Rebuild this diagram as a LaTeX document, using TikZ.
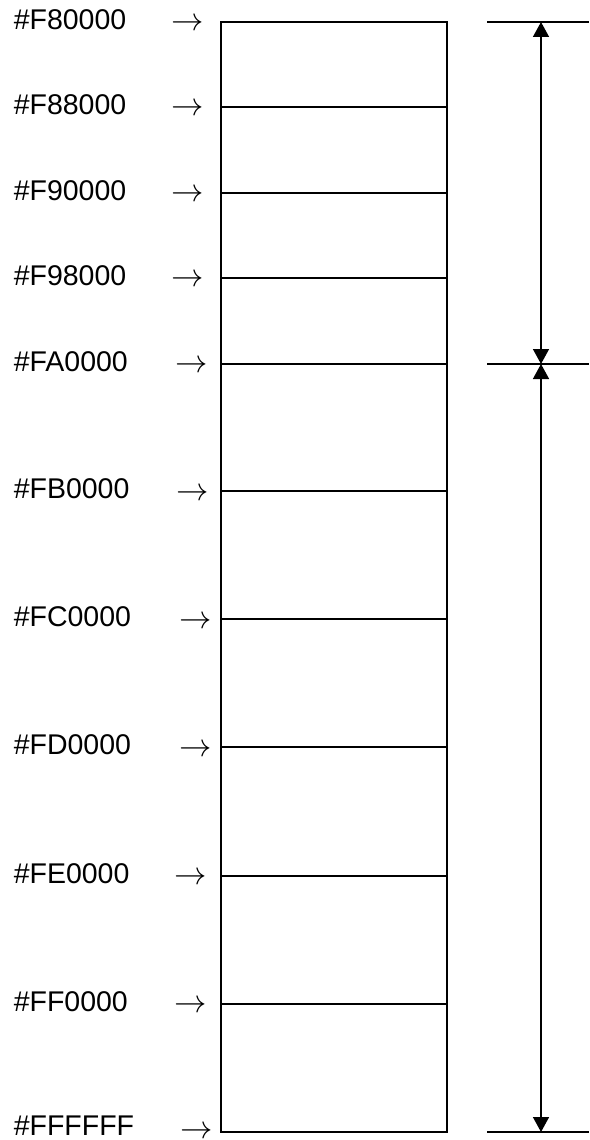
\documentclass[tikz,border=0pt]{standalone}
\usepackage{fontspec}
\setmainfont{Liberation Sans}
\usetikzlibrary{arrows.meta}
\newcommand{\ptr}{\scalebox{1.3}{$\rightarrow$}}

\begin{document}
\begin{tikzpicture}[x=1pt,y=-1pt,line width=1.5pt]
\useasboundingbox (0,0) rectangle (589,1140);
%\tikzstyle{addr}=[anchor=west,inner sep=0pt]
\begin{scope}[every node/.style={anchor=west,inner sep=0pt,font=\fontsize{28.5}{30}\selectfont}]
    \node (a0) at (13,20) {\#F80000};
    \node (a1) at (13,105) {\#F88000};
    \node (a2) at (13,191) {\#F90000};
    \node (a3) at (13,276) {\#F98000};
    \node (a4) at (13,362) {\#FA0000};
    \node (a5) at (13,489) {\#FB0000};
    \node (a6) at (13,617) {\#FC0000};
    \node (a7) at (13,745) {\#FD0000};
    \node (a8) at (13,874) {\#FE0000};
    \node (a9) at (13,1002) {\#FF0000};
    \node (a10) at (13,1126) {\#FFFFFF};
\end{scope}

\begin{scope}[every node/.style={inner sep=0pt,font=\fontsize{24.88}{30}\selectfont}]
    \node (p0) at (188,25) {\ptr};
    \node (p1) at (188,110) {\ptr};
    \node (p2) at (188,196) {\ptr};
    \node (p3) at (188,281) {\ptr};
    \node (p4) at (192,367) {\ptr};
    \node (p5) at (193,495) {\ptr};
    \node (p6) at (196,623) {\ptr};
    \node (p7) at (196,751) {\ptr};
    \node (p8) at (191,879) {\ptr};
    \node (p9) at (191,1007) {\ptr};
    \node (p10) at (197,1133) {\ptr};
\end{scope}

% the memory block
\coordinate (l0) at (221,22);
\coordinate (r0) at (447,22);
\coordinate (l10) at (221,1132);
\coordinate (r10) at (447,1132);
\draw (l0) rectangle (r10);
\foreach \y in {107,193,278,364,491,619,747,876,1004}
    \draw (221,\y) -- (447,\y);

% size marks on the right
\coordinate (m0) at (541,22);
\coordinate (m4) at (541,364);
\coordinate (m10) at (541,1132);
\draw (487,22) -- (589,22);
\draw (487,364) -- (589,364);
\draw (487,1132) -- (589,1132);
\path [{Triangle[length=15pt,width=16pt]}-{Triangle[length=15pt,width=16pt]}] (m0) edge (m4);
\path [{Triangle[length=15pt,width=16pt]}-{Triangle[length=15pt,width=16pt]}] (m4) edge (m10);
\end{tikzpicture}
\end{document}
